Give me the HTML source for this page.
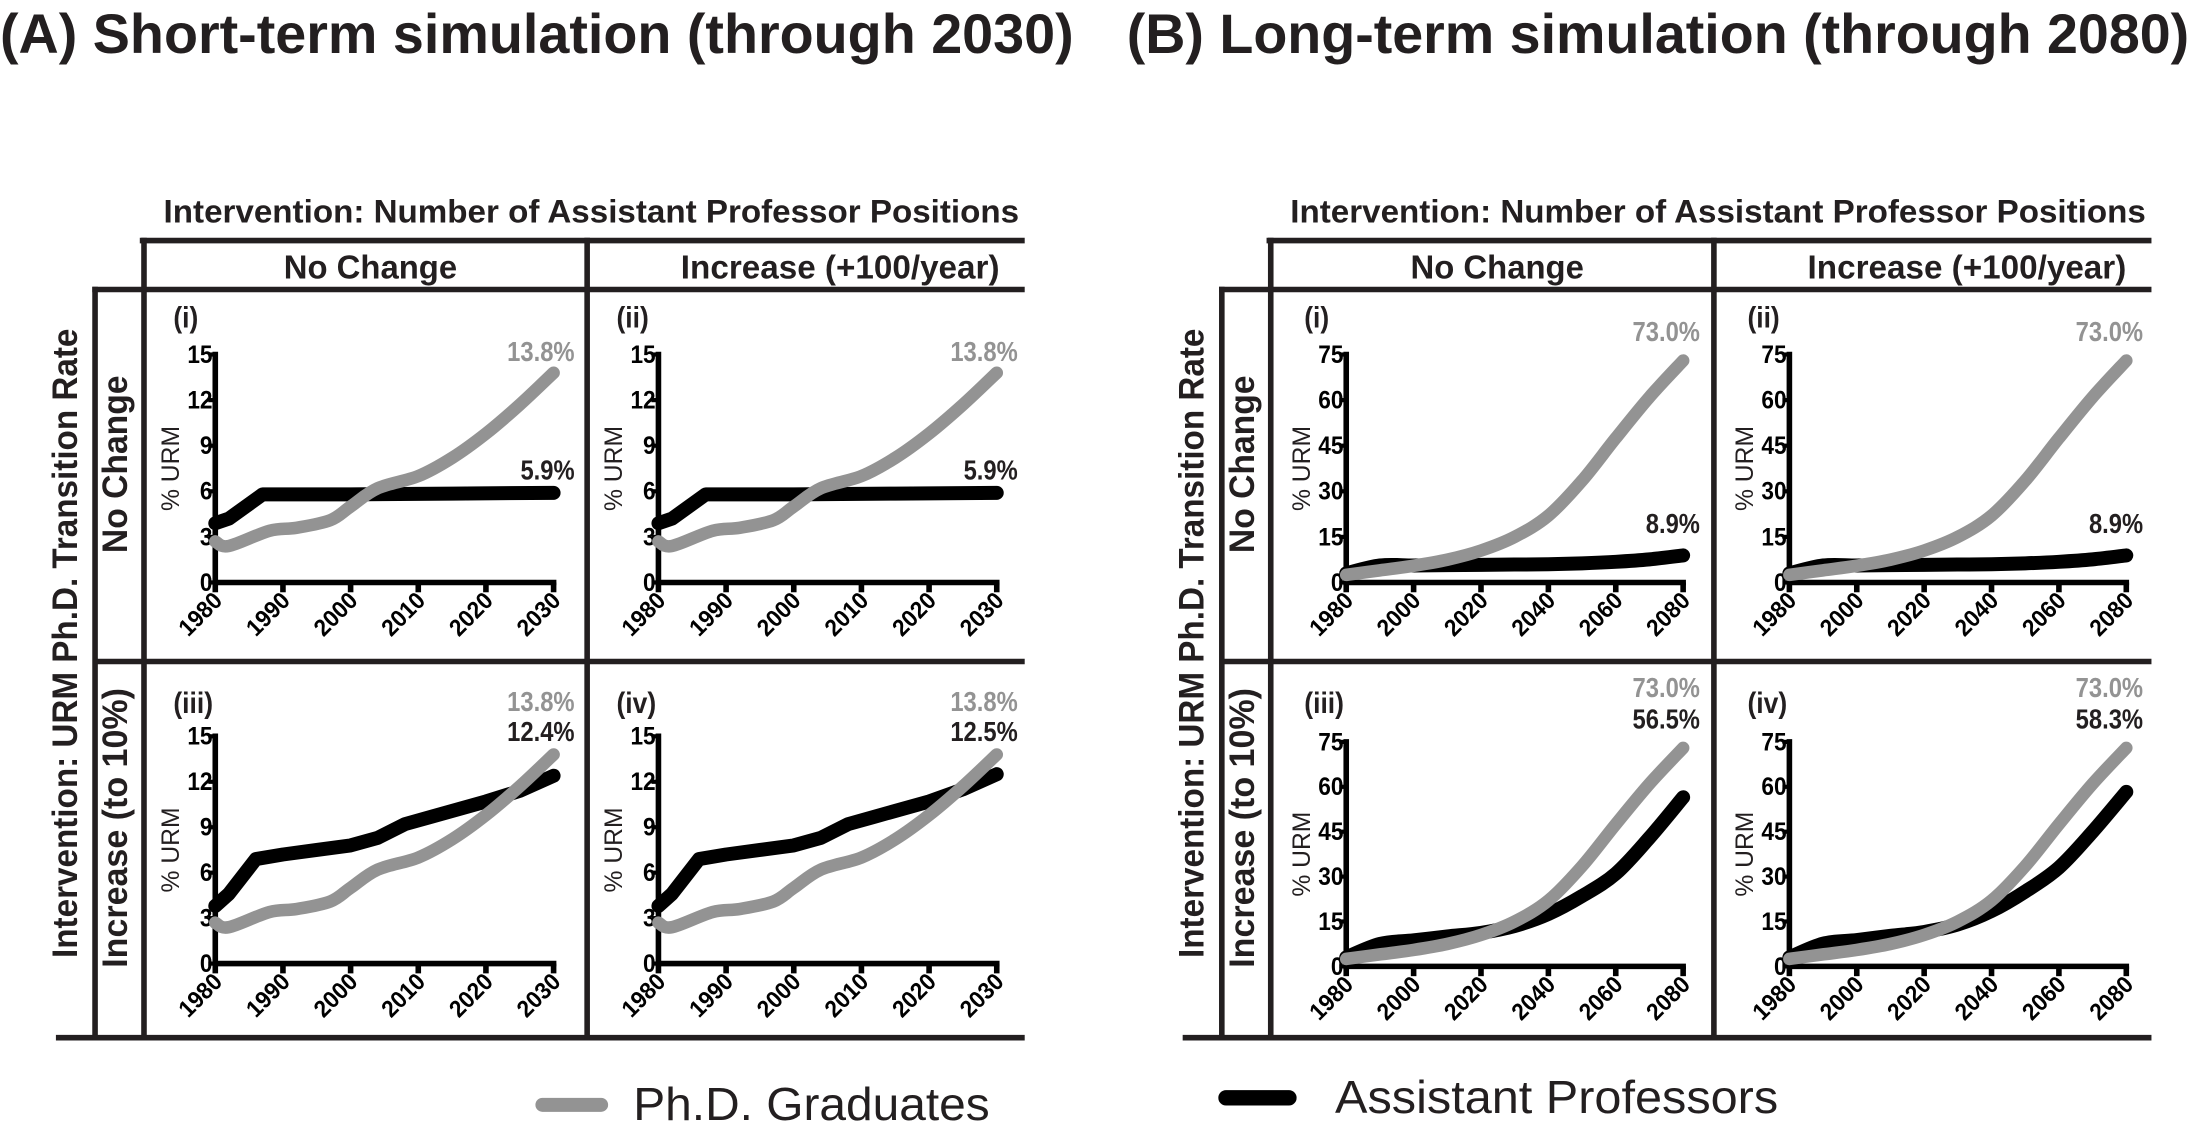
<!DOCTYPE html>
<html><head><meta charset="utf-8">
<style>
html,body{margin:0;padding:0;background:#fff;}
svg{display:block;font-family:"Liberation Sans",Arial,sans-serif;}
</style></head>
<body>
<svg id="fig" width="2192" height="1137" viewBox="0 0 1568 813" preserveAspectRatio="none" xmlns="http://www.w3.org/2000/svg">
<g id="static"></g>
<g id="plots"></g>
</svg>
<script>
// ---- data ----
const shortYears = [1980, 1982, 1988, 1992, 1997, 2000, 2004, 2010, 2015, 2020, 2025, 2030];
const shortPhd   = [2.7, 2.4, 3.4, 3.6, 4.1, 5.0, 6.2, 7.0, 8.2, 9.8, 11.7, 13.8];
const shortProfNoChangeYears = [1980, 1982, 1987, 2000, 2015, 2030];
const shortProfNoChange = [3.9, 4.2, 5.8, 5.8, 5.85, 5.9];
const shortProfIncYears = [1980, 1982, 1986, 1990, 1995, 2000, 2004, 2008, 2012, 2020, 2025, 2030];
const shortProfInc3 = [3.8, 4.6, 6.9, 7.2, 7.5, 7.8, 8.3, 9.2, 9.7, 10.7, 11.4, 12.4];
const shortProfInc4 = [3.8, 4.6, 6.9, 7.2, 7.5, 7.8, 8.3, 9.2, 9.7, 10.7, 11.5, 12.5];
const longYears = [1980, 1990, 2000, 2010, 2020, 2030, 2040, 2050, 2060, 2070, 2080];
const longPhd   = [2.5, 4.0, 5.5, 7.5, 10.5, 15.0, 22.0, 33.5, 47.5, 61.0, 73.0];
const longProfNoChange = [3.0, 5.6, 5.6, 5.7, 5.8, 5.9, 6.0, 6.3, 6.8, 7.6, 8.9];
const longProfInc3 = [3.0, 7.5, 8.7, 10.0, 11.2, 13.5, 17.5, 23.5, 31.0, 43.0, 56.5];
const longProfInc4 = [3.0, 7.6, 8.8, 10.2, 11.5, 14.0, 18.5, 25.0, 33.0, 45.0, 58.3];
const shortYTicks = [0, 3, 6, 9, 12, 15];
const longYTicks = [0, 15, 30, 45, 60, 75];
const shortXTicks = [1980, 1990, 2000, 2010, 2020, 2030];
const longXTicks = [1980, 2000, 2020, 2040, 2060, 2080];
const phdEndLabel = ["13.8%", "13.8%", "13.8%", "13.8%", "73.0%", "73.0%", "73.0%", "73.0%"];
const profEndLabel = ["5.9%", "5.9%", "12.4%", "12.5%", "8.9%", "8.9%", "56.5%", "58.3%"];

const NS = "http://www.w3.org/2000/svg";
function mk(tag, attrs, parent, text) {
  const e = document.createElementNS(NS, tag);
  for (const k in attrs) e.setAttribute(k, attrs[k]);
  if (text !== undefined) e.textContent = text;
  parent.appendChild(e);
  return e;
}
const S = document.getElementById('static');
const P = document.getElementById('plots');

function line(x1, y1, x2, y2, w, name) {
  const l = mk('line', {x1, y1, x2, y2, stroke: '#231f20', 'stroke-width': w}, S);
  
  
}
const CW = {'%': 0.889, '.': 0.278, '(': 0.333, ')': 0.333, 'i': 0.278, ' ': 0.278, 'U': 0.722, 'R': 0.722, 'M': 0.833};
function estWidth(s, fs) {
  let w = 0;
  for (const c of s) w += (CW[c] !== undefined ? CW[c] : 0.556);
  return w * fs;
}
function txt(x, y, s, opts, parent, name, cond) {
  const a = Object.assign({x, y, fill: '#231f20'}, opts);
  if (cond) {
    a.textLength = (estWidth(s, +opts['font-size']) * cond).toFixed(1);
    a.lengthAdjust = 'spacingAndGlyphs';
  }
  const t = mk('text', a, parent || S, s);
  
  
  return t;
}

// titles
txt(0, 38, "(A) Short-term simulation (through 2030)", {'font-size': 40, 'font-weight': 'bold', textLength: 768, lengthAdjust: 'spacingAndGlyphs'}, S, 'panel-a-title');
txt(806, 38, "(B) Long-term simulation (through 2080)", {'font-size': 40, 'font-weight': 'bold', textLength: 760, lengthAdjust: 'spacingAndGlyphs'}, S, 'panel-b-title');

[0, 806].forEach((o, pi) => {
  const pre = pi ? 'panel-b-' : 'panel-a-';
  txt(117 + o, 159, "Intervention: Number of Assistant Professor Positions", {'font-size': 23, 'font-weight': 'bold', textLength: 612, lengthAdjust: 'spacingAndGlyphs'}, S, pre + 'column-intervention-title');
  line(100 + o, 172, 733 + o, 172, 4, pre + 'header-top-border');
  line(66 + o, 207, 733 + o, 207, 4, pre + 'header-bottom-border');
  line(68 + o, 473, 733 + o, 473, 4, pre + 'row-divider');
  line(40 + o, 742, 733 + o, 742, 4, pre + 'bottom-border');
  line(103 + o, 170, 103 + o, 744, 4, pre + 'left-column-border');
  line(420 + o, 170, 420 + o, 744, 4, pre + 'middle-column-border');
  line(68 + o, 205, 68 + o, 744, 4, pre + 'row-header-border');
  txt(203 + o, 199, "No Change", {'font-size': 24, 'font-weight': 'bold', textLength: 124, lengthAdjust: 'spacingAndGlyphs'}, S, pre + 'col-no-change');
  txt(487 + o, 199, "Increase (+100/year)", {'font-size': 24, 'font-weight': 'bold', textLength: 228, lengthAdjust: 'spacingAndGlyphs'}, S, pre + 'col-increase');
  txt(0, 0, "No Change", {'font-size': 25, 'font-weight': 'bold', 'text-anchor': 'middle', textLength: 127, lengthAdjust: 'spacingAndGlyphs', transform: `translate(${91 + o},332) rotate(-90)`}, S, pre + 'row-no-change');
  txt(0, 0, "Increase (to 10%)", {'font-size': 25, 'font-weight': 'bold', 'text-anchor': 'middle', textLength: 200, lengthAdjust: 'spacingAndGlyphs', transform: `translate(${91 + o},592) rotate(-90)`}, S, pre + 'row-increase');
  txt(0, 0, "Intervention: URM Ph.D. Transition Rate", {'font-size': 25, 'font-weight': 'bold', 'text-anchor': 'middle', textLength: 450, lengthAdjust: 'spacingAndGlyphs', transform: `translate(${55 + o},460) rotate(-90)`}, S, pre + 'row-intervention-title');
});

const romans = ["(i)", "(ii)", "(iii)", "(iv)"];
function catmull(pts) {
  let d = `M${pts[0][0]},${pts[0][1]}`;
  for (let i = 0; i < pts.length - 1; i++) {
    const p0 = pts[Math.max(0, i - 1)], p1 = pts[i], p2 = pts[i + 1], p3 = pts[Math.min(pts.length - 1, i + 2)];
    const c1x = p1[0] + (p2[0] - p0[0]) / 6, c1y = p1[1] + (p2[1] - p0[1]) / 6;
    const c2x = p2[0] - (p3[0] - p1[0]) / 6, c2y = p2[1] - (p3[1] - p1[1]) / 6;
    d += ` C${c1x},${c1y} ${c2x},${c2y} ${p2[0]},${p2[1]}`;
  }
  return d;
}

for (let k = 0; k < 8; k++) {
  const isLong = k >= 4;
  const idx = k % 4;
  const col = idx % 2, row = Math.floor(idx / 2);
  const ox = (isLong ? 809 : 0) + col * 317;
  const x0 = 154 + ox, x1 = (isLong ? 395 : 396) + ox;
  const yb = row ? (isLong ? 691 : 689) : 416.5;
  const yt = row ? (isLong ? 530.5 : 526.5) : 253.5;
  const yMax = isLong ? 75 : 15;
  const xMin = 1980, xMax = isLong ? 2080 : 2030;
  const sx = v => x0 + (v - xMin) / (xMax - xMin) * (x1 - x0);
  const sy = v => yb - v / yMax * (yb - yt);
  const g = mk('g', {}, P);
  
  

  txt(x0 - 30, row ? 510 : 234, romans[idx], {'font-size': 21, 'font-weight': 'bold'}, g, 'panel-label', 0.9);
  const yt_ = isLong ? longYTicks : shortYTicks;
  yt_.forEach(v => {
    txt(x0 - 2, sy(v) + 6, String(v), {'font-size': 18, 'font-weight': 'bold', 'text-anchor': 'end', fill: '#000'}, g, 'y-tick-label', 0.9);
    const tk = mk('line', {x1: x0 - 5, y1: sy(v), x2: x0, y2: sy(v), stroke: '#000', 'stroke-width': 3}, g);
     
  });
  const ya = mk('line', {x1: x0, y1: yt - 2, x2: x0, y2: yb + 2, stroke: '#000', 'stroke-width': 4}, g);
   
  const xa = mk('line', {x1: x0 - 2, y1: yb, x2: x1 + 2, y2: yb, stroke: '#000', 'stroke-width': 4}, g);
   
  const xt_ = isLong ? longXTicks : shortXTicks;
  xt_.forEach(v => {
    const tk = mk('line', {x1: sx(v), y1: yb, x2: sx(v), y2: yb + 7, stroke: '#000', 'stroke-width': 4}, g);
     
    txt(0, 0, String(v), {'font-size': 17, 'font-weight': 'bold', 'text-anchor': 'end', fill: '#000', transform: `translate(${sx(v) + 6},${yb + 14}) rotate(-45)`}, g, 'x-tick-label', 0.95);
  });
  txt(0, 0, "% URM", {'font-size': 18, 'text-anchor': 'middle', fill: '#231f20', transform: `translate(${x0 - 26},${(yt + yb) / 2}) rotate(-90)`}, g, 'y-axis-title', 0.98);

  let profX, profY, phdX, phdY;
  if (!isLong) {
    phdX = shortYears; phdY = shortPhd;
    if (row === 0) { profX = shortProfNoChangeYears; profY = shortProfNoChange; }
    else { profX = shortProfIncYears; profY = col ? shortProfInc4 : shortProfInc3; }
  } else {
    phdX = longYears; phdY = longPhd; profX = longYears;
    profY = row === 0 ? longProfNoChange : (col ? longProfInc4 : longProfInc3);
  }
  const profPts = profX.map((yr, i) => [sx(yr), sy(profY[i])]);
  const phdPts = phdX.map((yr, i) => [sx(yr), sy(phdY[i])]);
  const pp = mk('path', {d: isLong ? catmull(profPts) : 'M' + profPts.map(p => p.join(',')).join(' L'), fill: 'none', stroke: '#000', 'stroke-width': 10, 'stroke-linecap': 'round', 'stroke-linejoin': 'round'}, g);
   
  const ph = mk('path', {d: catmull(phdPts), fill: 'none', stroke: '#939393', 'stroke-width': 9, 'stroke-linecap': 'round', 'stroke-linejoin': 'round'}, g);
   

  const gy = row ? (isLong ? 498.5 : 508.5) : (isLong ? 244 : 258);
  const by = row ? (isLong ? 521 : 530) : (isLong ? 381 : 343);
  const ex = x1 + (isLong ? 12 : 15);
  txt(ex, gy, phdEndLabel[k], {'font-size': 20, 'font-weight': 'bold', 'text-anchor': 'end', fill: '#939393'}, g, 'phd-end-label', 0.85);
  txt(ex, by, profEndLabel[k], {'font-size': 20, 'font-weight': 'bold', 'text-anchor': 'end', fill: '#231f20'}, g, 'prof-end-label', 0.85);
}

// legend
const lg = mk('g', {}, S);
 
const l1 = mk('line', {x1: 388, y1: 790, x2: 430, y2: 790, stroke: '#939393', 'stroke-width': 10, 'stroke-linecap': 'round'}, lg);
 
txt(453, 801, "Ph.D. Graduates", {'font-size': 33, fill: '#231f20', textLength: 255, lengthAdjust: 'spacingAndGlyphs'}, lg, 'legend-phd-label');
const l2 = mk('line', {x1: 877, y1: 785, x2: 922, y2: 785, stroke: '#000', 'stroke-width': 11, 'stroke-linecap': 'round'}, lg);
 
txt(955, 796, "Assistant Professors", {'font-size': 33, fill: '#231f20', textLength: 317, lengthAdjust: 'spacingAndGlyphs'}, lg, 'legend-prof-label');
</script>
</body></html>
